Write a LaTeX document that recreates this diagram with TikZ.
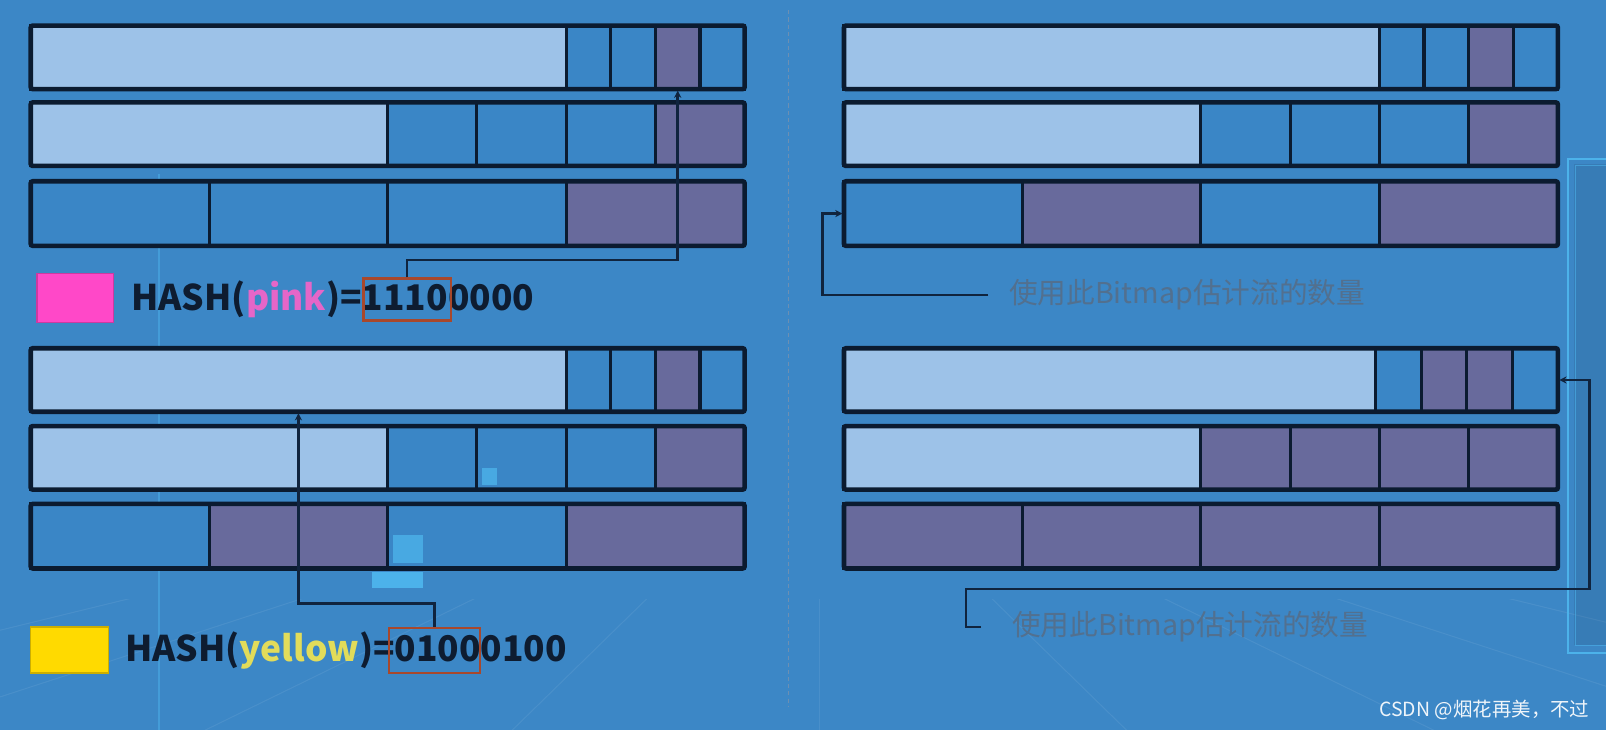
\documentclass[tikz,border=0pt]{standalone}
\usepackage{fontspec}
\newfontfamily\cjk{Noto Sans CJK SC}
\usetikzlibrary{fit,arrows.meta}
\definecolor{bgc}{HTML}{3C87C6}
\definecolor{lt}{HTML}{9DC2E8}
\definecolor{bl}{HTML}{3A86C6}
\definecolor{pu}{HTML}{686A9C}
\definecolor{bord}{HTML}{0B1B30}
\definecolor{connc}{HTML}{10243E}
\definecolor{textc}{HTML}{0E1C30}
\definecolor{notec}{HTML}{52708F}
\definecolor{pinksq}{HTML}{FF48C8}
\definecolor{pinkt}{HTML}{E566C8}
\definecolor{yelsq}{HTML}{FFDA00}
\definecolor{yelt}{HTML}{E2DC5A}
\definecolor{redb}{HTML}{A8482C}
\definecolor{deco}{HTML}{4CB2EA}
\definecolor{divc}{HTML}{6C8FB2}
\newcommand\bmrow[4]{%
  \foreach \xa/\xb/\cc [count=\i] in {#4}
    {\node[cellbox, fill=\cc, fit={(\xa,#2) (\xb,#3)}] (#1\i) {};}
  \node[rowframe, fit={(30,#2) (727,#3)}] (#1) {};
}
\begin{document}
\begin{tikzpicture}[x=1pt,y=-1pt,
  cellbox/.style={draw=bord, line width=3pt, inner sep=0pt, rectangle},
  rowframe/.style={draw=bord, line width=4.5pt, inner sep=0pt, rectangle, rounded corners=2pt},
  conn/.style={draw=connc, line width=2.6pt, -{Stealth[length=7pt,width=7pt]}},
  hashtext/.style={font=\cjk\bfseries\fontsize{34.5}{34.5}\selectfont, text=textc, inner sep=0pt},
  note/.style={font=\cjk\fontsize{28}{28}\selectfont, text=notec, inner sep=0pt},
  redbox/.style={draw=redb, line width=2.2pt, inner sep=0pt, rectangle},
  legend/.style={inner sep=0pt, rectangle, line width=1.5pt}]
\useasboundingbox (0,0) rectangle (1568,713);
\fill[bgc] (0,0) rectangle (1568,713);
% background decorations
\begin{scope}
\clip (0,585) rectangle (1568,713);
\foreach \ex in {-400,-100,200,500,800,1100,1400,1700,2000}
  \draw[white, opacity=0.07, line width=1pt] (800,420) -- (\ex,713);
\end{scope}
\draw[deco, opacity=0.5, line width=1.5pt] (155,170) -- (155,713);
\fill[deco] (363,558) rectangle (413,574);
\fill[black, opacity=0.08] (1537,160) rectangle (1568,630);
\draw[deco, line width=2pt] (1568,155) -- (1531,155) -- (1531,638) -- (1568,638);
\draw[deco, opacity=0.6, line width=1pt] (1568,162) -- (1538,162) -- (1538,630) -- (1568,630);
% divider
\draw[divc, line width=1.6pt, dash pattern=on 4pt off 3pt] (770,10) -- (770,690);
% top-left panel
\bmrow{TLa}{25}{87}{30/552.75/lt, 552.75/596.31/bl, 596.31/639.88/bl, 639.88/683.44/pu, 683.44/727/bl}
\bmrow{TLb}{100}{162}{30/378.5/lt, 378.5/465.63/bl, 465.63/552.75/bl, 552.75/639.88/bl, 639.88/727/pu}
\bmrow{TLc}{177}{240}{30/204.25/bl, 204.25/378.5/bl, 378.5/552.75/bl, 552.75/727/pu}
% bottom-left panel
\bmrow{BLa}{340}{402}{30/552.75/lt, 552.75/596.31/bl, 596.31/639.88/bl, 639.88/683.44/pu, 683.44/727/bl}
\bmrow{BLb}{416}{478}{30/378.5/lt, 378.5/465.63/bl, 465.63/552.75/bl, 552.75/639.88/bl, 639.88/727/pu}
\bmrow{BLc}{492}{555}{30/204.25/bl, 204.25/378.5/pu, 378.5/552.75/bl, 552.75/727/pu}
\fill[deco, opacity=0.8] (471,457) rectangle (485,474);
\fill[deco, opacity=0.8] (384,522) rectangle (413,550);
\begin{scope}[xshift=794pt]
\bmrow{TRa}{25}{87}{30/552.75/lt, 552.75/596.31/bl, 596.31/639.88/bl, 639.88/683.44/pu, 683.44/727/bl}
\bmrow{TRb}{100}{162}{30/378.5/lt, 378.5/465.63/bl, 465.63/552.75/bl, 552.75/639.88/bl, 639.88/727/pu}
\bmrow{TRc}{177}{240}{30/204.25/bl, 204.25/378.5/pu, 378.5/552.75/bl, 552.75/727/pu}
\bmrow{BRa}{340}{402}{30/549/lt, 549/593.5/bl, 593.5/638/pu, 638/683/pu, 683/727/bl}
\bmrow{BRb}{416}{478}{30/378.5/lt, 378.5/465.63/pu, 465.63/552.75/pu, 552.75/639.88/pu, 639.88/727/pu}
\bmrow{BRc}{492}{555}{30/204.25/pu, 204.25/378.5/pu, 378.5/552.75/pu, 552.75/727/pu}
\end{scope}
% legends
\node[legend, fill=pinksq, draw=pinksq!80!black, fit={(36,267) (111,315)}] (pinksq) {};
\node[hashtext, anchor=west] (pinkhash) at (128,292) {HASH(\textcolor{pinkt}{pink})=11100000};
\node[redbox, fit={(355,272) (440,313)}] (pinkbox) {};
\node[legend, fill=yelsq, draw=yelsq!80!black, fit={(30,612) (106,657)}] (yelsq) {};
\node[hashtext, anchor=west] (yelhash) at (122,635) {HASH(\textcolor{yelt}{yellow})=01000100};
\node[redbox, fit={(380,613) (469,657)}] (yelbox) {};
% notes
\node[note, anchor=west] (trtext) at (985,288) {使用此Bitmap估计流的数量};
\node[note, anchor=west] (brtext) at (988,612) {使用此Bitmap估计流的数量};
% connectors
\draw[conn] (pinkbox.north) -- ++(0,-17) -| (TLa4.south);
\draw[conn] (yelbox.north) -- ++(0,-23) -| (BLa1.south);
\draw[conn] ([xshift=-20pt]trtext.west) -- ++(-162,0) |- (TRc1.west);
\draw[conn] ([xshift=-30pt]brtext.west) -- ++(-15,0) |- ++(609,-37) |- (BRa5.east);
% watermark
\node[font=\cjk\fontsize{19}{19}\selectfont, text=white!92!bgc, anchor=east, inner sep=0pt] (wm) at (1552,693) {CSDN @烟花再美，不过};
\end{tikzpicture}
\end{document}
